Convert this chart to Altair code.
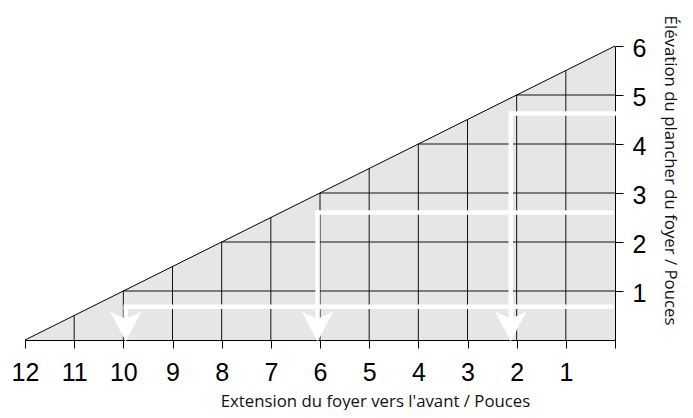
import altair as alt
import pandas as pd

# ---- data -------------------------------------------------------------
x_ticks = list(range(0, 13))
y_ticks = [1, 2, 3, 4, 5, 6]

tri_x = [12, 0]
tri_y = [0, 6]

vgrid_x = [1, 2, 3, 4, 5, 6, 7, 8, 9, 10, 11]
vgrid_top = [5.5, 5, 4.5, 4, 3.5, 3, 2.5, 2, 1.5, 1, 0.5]

hgrid_y = [1, 2, 3, 4, 5]
hgrid_left = [10, 8, 6, 4, 2]

arrow_y = [0.68, 2.6, 4.62]
arrow_x = [9.95, 6.05, 2.12]
arrow_start = [0.07, 0.07, 0.0]
arrow_stop = [0.2, 0.2, 0.2]

x_title = "Extension du foyer vers l'avant / Pouces"
y_title = "Élévation du plancher du foyer / Pouces"

# ---- tables -----------------------------------------------------------
tri = pd.DataFrame({"x": tri_x, "y": tri_y})
vg = pd.DataFrame({"x": vgrid_x, "y": [0] * len(vgrid_x), "y1": vgrid_top})
hg = pd.DataFrame({"y": hgrid_y, "x": [0] * len(hgrid_y), "x1": hgrid_left})
ar_h = pd.DataFrame({"y": arrow_y, "x": arrow_start, "x1": arrow_x})
ar_v = pd.DataFrame({"x": arrow_x, "y": arrow_y, "y1": arrow_stop})
ar_t = pd.DataFrame({"x": arrow_x, "y": [0] * len(arrow_x)})

xs = alt.Scale(domain=[0, 12], reverse=True, nice=False, zero=False)
ys = alt.Scale(domain=[0, 6], nice=False, zero=False)

label_font = "Liberation Sans"
title_font = "Open Sans"

x_axis = alt.Axis(
    values=x_ticks, labelExpr="datum.value == 0 ? '' : datum.label",
    grid=False, domainColor="black", domainWidth=1, tickColor="black",
    tickSize=8, tickWidth=1, labelFont=label_font, labelFontSize=25,
    labelColor="black", labelPadding=12, labelBaseline="top",
    labelFlush=False, labelOverlap=False,
    title=x_title, titleFont=title_font, titleFontSize=16.8, titleFontWeight="normal",
    titleColor="#111", titleX=350, titleY=66, titleAlign="center",
    titleBaseline="alphabetic", titleAnchor="start"
)
y_axis = alt.Axis(
    orient="right", values=y_ticks, grid=False, domainColor="black",
    domainWidth=1, tickColor="black", tickSize=8, tickWidth=1,
    labelFont=label_font, labelFontSize=25, labelColor="black",
    labelPadding=9, labelBaseline="middle", labelOffset=2,
    labelFlush=False, labelOverlap=False,
    title=y_title, titleFont=title_font, titleFontSize=16.8, titleFontWeight="normal",
    titleColor="#111", titleAngle=90, titleX=49, titleY=124,
    titleAlign="center", titleBaseline="alphabetic", titleAnchor="start"
)

X = alt.X("x:Q", scale=xs, axis=x_axis)
Y = alt.Y("y:Q", scale=ys, axis=y_axis)

area = alt.Chart(tri).mark_area(color="#e6e6e6", opacity=1).encode(x=X, y=Y)

hyp = alt.Chart(tri).mark_line(color="black", strokeWidth=1).encode(x=X, y=Y)

vrules = alt.Chart(vg).mark_rule(color="#111", strokeWidth=1).encode(
    x=X, y=Y, y2="y1:Q")

hrules = alt.Chart(hg).mark_rule(color="#111", strokeWidth=1).encode(
    y=Y, x=X, x2="x1:Q")

arr_h = alt.Chart(ar_h).mark_rule(color="white", strokeWidth=4.5, strokeCap="square").encode(
    y=Y, x=X, x2="x1:Q")

arr_v = alt.Chart(ar_v).mark_rule(color="white", strokeWidth=4.5).encode(
    x=X, y=Y, y2="y1:Q")

head_path = "M -1 -1.8 L 0 -1.35 L 1 -1.8 L 0 0.1 Z"
heads = alt.Chart(ar_t).mark_point(
    shape=head_path, size=1000, filled=True, color="white", opacity=1, strokeWidth=0
).encode(x=X, y=Y)

chart = alt.layer(area, vrules, hrules, hyp, arr_h, arr_v, heads).properties(
    width=590, height=294,
    autosize=alt.AutoSizeParams(type="none"),
    padding={"left": 17, "top": 38, "right": 70, "bottom": 70},
).configure_view(stroke=None)

chart.save("out.html", embed_options={"renderer": "svg", "actions": False})
